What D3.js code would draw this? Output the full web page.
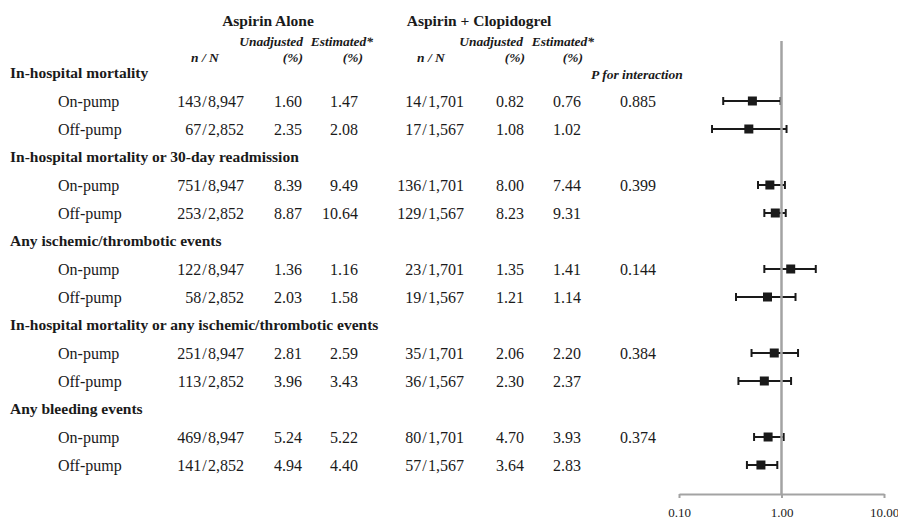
<!DOCTYPE html>
<html>
<head>
<meta charset="utf-8">
<script src="https://cdn.jsdelivr.net/npm/d3@7/dist/d3.min.js"></script>
<style>
  html, body { margin: 0; padding: 0; background: #fff; }
  svg { display: block; font-family: "Liberation Serif", "Times New Roman", serif; }
</style>
</head>
<body>
<svg id="chart" width="898" height="523"></svg>
<script>
// Outcomes and subgroups
const outcomes = [
  "In-hospital mortality",
  "In-hospital mortality or 30-day readmission",
  "Any ischemic/thrombotic events",
  "In-hospital mortality or any ischemic/thrombotic events",
  "Any bleeding events"
];
const subgroups = ["On-pump", "Off-pump"];

// Aspirin alone (rows: outcome × subgroup)
const aspirinEvents = [143, 67, 751, 253, 122, 58, 251, 113, 469, 141];
const aspirinTotal  = [8947, 2852, 8947, 2852, 8947, 2852, 8947, 2852, 8947, 2852];
const aspirinUnadj  = [1.60, 2.35, 8.39, 8.87, 1.36, 2.03, 2.81, 3.96, 5.24, 4.94];
const aspirinEst    = [1.47, 2.08, 9.49, 10.64, 1.16, 1.58, 2.59, 3.43, 5.22, 4.40];

// Aspirin + clopidogrel
const clopEvents = [14, 17, 136, 129, 23, 19, 35, 36, 80, 57];
const clopTotal  = [1701, 1567, 1701, 1567, 1701, 1567, 1701, 1567, 1701, 1567];
const clopUnadj  = [0.82, 1.08, 8.00, 8.23, 1.35, 1.21, 2.06, 2.30, 4.70, 3.64];
const clopEst    = [0.76, 1.02, 7.44, 9.31, 1.41, 1.14, 2.20, 2.37, 3.93, 2.83];

// P for interaction, one per outcome
const pInteraction = [0.885, 0.399, 0.144, 0.384, 0.374];

// Odds ratios with 95% CI
const oddsRatio = [0.52, 0.48, 0.77, 0.87, 1.23, 0.73, 0.85, 0.68, 0.74, 0.63];
const ciLow     = [0.27, 0.21, 0.59, 0.68, 0.68, 0.36, 0.51, 0.38, 0.54, 0.46];
const ciHigh    = [0.98, 1.12, 1.08, 1.10, 2.16, 1.37, 1.45, 1.24, 1.05, 0.91];

// Axis ticks
const axisTicks = [0.1, 1, 10];

// ---- layout ----
const svg = d3.select("#chart");
const ink = "#1a1a1a";
const axisGray = "#a3a3a3";

// Row keys: a header row per outcome, followed by its subgroups
const rowKeys = [];
outcomes.forEach((o, i) => {
  rowKeys.push("h" + i);
  subgroups.forEach((s, j) => rowKeys.push("r" + (i * subgroups.length + j)));
});
const y = d3.scalePoint().domain(rowKeys).range([73, 465]);

const x = d3.scaleLog().domain([0.1, 10]).range([679, 884]);

const fmtInt = d3.format(",");
const fmt2 = d3.format(".2f");
const fmt3 = d3.format(".3f");
const fraction = (a, b) => a + "/" + fmtInt(b);

// Column anchors
const col = {
  label: 10, sub: 58,
  aN: 244, aU: 302, aE: 358,
  cN: 464, cU: 524, cE: 581,
  p: 638
};

// Group headings
const headG = svg.append("g").attr("fill", ink);
headG.append("text").attr("x", 268).attr("y", 26).attr("text-anchor", "middle")
  .attr("font-weight", "bold").attr("font-size", 15.5).text("Aspirin Alone");
headG.append("text").attr("x", 479).attr("y", 26).attr("text-anchor", "middle")
  .attr("font-weight", "bold").attr("font-size", 15.5).text("Aspirin + Clopidogrel");

// Column headings
const colHead = [
  { x: 205, y: 62, t: "n / N", a: "middle" },
  { x: 303, y: 46, t: "Unadjusted", a: "end" },
  { x: 303, y: 62, t: "(%)", a: "end" },
  { x: 373, y: 46, t: "Estimated*", a: "end" },
  { x: 363, y: 62, t: "(%)", a: "end" },
  { x: 431, y: 62, t: "n / N", a: "middle" },
  { x: 523, y: 46, t: "Unadjusted", a: "end" },
  { x: 525, y: 62, t: "(%)", a: "end" },
  { x: 594, y: 46, t: "Estimated*", a: "end" },
  { x: 583, y: 62, t: "(%)", a: "end" },
  { x: 637, y: 79, t: "P for interaction", a: "middle" }
];
headG.selectAll("text.colhead").data(colHead).join("text")
  .attr("class", "colhead")
  .attr("x", d => d.x).attr("y", d => d.y)
  .attr("text-anchor", d => d.a)
  .attr("font-weight", "bold").attr("font-style", "italic").attr("font-size", 13.5)
  .text(d => d.t);

// Outcome headings
svg.append("g").selectAll("text").data(outcomes).join("text")
  .attr("x", col.label).attr("y", (d, i) => y("h" + i)).attr("dy", "0.35em")
  .attr("font-weight", "bold").attr("font-size", 15.5).attr("fill", ink)
  .text(d => d);

// Table rows
const rows = d3.range(aspirinEvents.length).map(i => ({
  i,
  sub: subgroups[i % subgroups.length],
  aN: fraction(aspirinEvents[i], aspirinTotal[i]),
  aU: fmt2(aspirinUnadj[i]),
  aE: fmt2(aspirinEst[i]),
  cN: fraction(clopEvents[i], clopTotal[i]),
  cU: fmt2(clopUnadj[i]),
  cE: fmt2(clopEst[i]),
  p: i % subgroups.length === 0 ? fmt3(pInteraction[Math.floor(i / subgroups.length)]) : ""
}));

const rowG = svg.append("g").attr("font-size", 16).attr("fill", ink)
  .selectAll("g").data(rows).join("g")
  .attr("transform", d => `translate(0,${y("r" + d.i)})`);

const cells = [
  { k: "sub", a: "start" },
  { k: "aN", a: "end" }, { k: "aU", a: "end" }, { k: "aE", a: "end" },
  { k: "cN", a: "end" }, { k: "cU", a: "end" }, { k: "cE", a: "end" },
  { k: "p", a: "middle" }
];
rowG.selectAll("text").data(d => cells.map(c => ({ c, v: d[c.k] }))).join("text")
  .attr("x", d => col[d.c.k]).attr("dy", "0.35em")
  .attr("text-anchor", d => d.c.a)
  .text(d => d.v)
  .each(function (d) {
    // slightly open the fraction slash
    if (d.c.k === "aN" || d.c.k === "cN") {
      const parts = d.v.split("/");
      const t = d3.select(this).text(null);
      t.append("tspan").text(parts[0]);
      t.append("tspan").attr("dx", 1.2).text("/");
      t.append("tspan").attr("dx", 1.2).text(parts[1]);
    }
  });

// ---- forest plot ----
const plot = svg.append("g");

// confidence intervals
const ci = plot.append("g").attr("stroke", ink).attr("stroke-width", 2)
  .selectAll("g").data(d3.range(oddsRatio.length)).join("g")
  .attr("transform", i => `translate(0,${y("r" + i)})`);
ci.append("line").attr("x1", i => x(ciLow[i])).attr("x2", i => x(ciHigh[i]));
ci.append("line").attr("x1", i => x(ciLow[i])).attr("x2", i => x(ciLow[i])).attr("y1", -4).attr("y2", 4);
ci.append("line").attr("x1", i => x(ciHigh[i])).attr("x2", i => x(ciHigh[i])).attr("y1", -4).attr("y2", 4);
ci.append("rect")
  .attr("x", i => x(oddsRatio[i]) - 4.5).attr("y", -4.5)
  .attr("width", 9).attr("height", 9)
  .attr("fill", ink).attr("stroke", "none");

// reference line at 1
plot.append("line")
  .attr("x1", x(1)).attr("x2", x(1)).attr("y1", 41).attr("y2", 494)
  .attr("stroke", axisGray).attr("stroke-width", 2.5);

// bottom axis
const axisG = plot.append("g").attr("transform", "translate(0,494)")
  .call(d3.axisBottom(x).tickValues(axisTicks).tickFormat(d3.format(".2f"))
    .tickSizeInner(4).tickSizeOuter(0).tickPadding(10));
axisG.select(".domain").attr("stroke", axisGray).attr("stroke-width", 2);
axisG.selectAll(".tick line").attr("stroke", axisGray).attr("stroke-width", 2);
axisG.selectAll(".tick text").attr("fill", ink)
  .attr("font-family", "Liberation Serif, Times New Roman, serif").attr("font-size", 13);
</script>
</body>
</html>
